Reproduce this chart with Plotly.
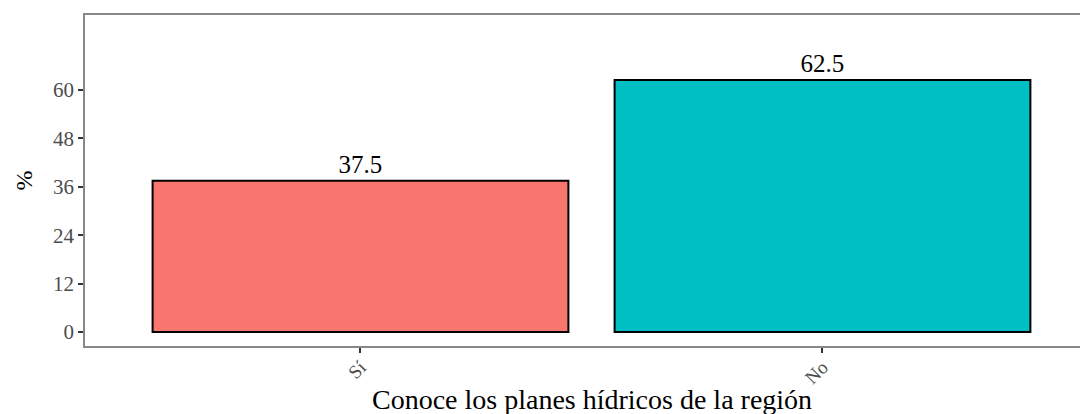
import plotly.graph_objects as go

categories = ["Sí", "No"]
values = [37.5, 62.5]
labels = ["37.5", "62.5"]
colors = ["#F8766D", "#00BFC4"]
y_ticks = [0, 12, 24, 36, 48, 60]

fig = go.Figure(go.Bar(
    x=categories, y=values, width=0.9,
    marker=dict(color=colors, line=dict(color="black", width=2)),
    text=labels, textposition="outside", cliponaxis=False,
    textfont=dict(family="Liberation Serif", size=25, color="black"),
))

# page body has an 8px margin, so the figure is sized/offset accordingly
fig.update_layout(
    width=1080, height=406,
    margin=dict(l=77, r=0, t=7, b=68, autoexpand=False),
    paper_bgcolor="white", plot_bgcolor="white",
    showlegend=False,
    font=dict(family="Liberation Serif"),
    xaxis=dict(
        range=[-0.5963, 1.5747], showgrid=False, automargin=False,
        showline=True, mirror=True, linecolor="#888888", linewidth=1.5,
        ticks="outside", ticklen=5, tickwidth=1.5, tickcolor="#333333",
        tickangle=-45, tickfont=dict(size=19, color="#4d4d4d"),
        ticklabelstandoff=-4,
    ),
    yaxis=dict(
        range=[-3.47, 78.6], showgrid=False, zeroline=False, automargin=False,
        showline=True, linecolor="#888888", linewidth=1.5,
        tickvals=y_ticks, ticks="outside", ticklen=5, tickwidth=1.5, tickcolor="#333333",
        tickfont=dict(size=21, color="#4d4d4d"),
        title=dict(text="%", font=dict(size=24, color="black"), standoff=14),
    ),
    annotations=[dict(
        text="Conoce los planes hídricos de la región",
        xref="paper", yref="paper", x=(592 - 85) / 1003, y=0,
        yshift=-36, xanchor="center", yanchor="top", showarrow=False,
        font=dict(family="Liberation Serif", size=28, color="black"),
    )],
)

fig.write_html("out.html")
